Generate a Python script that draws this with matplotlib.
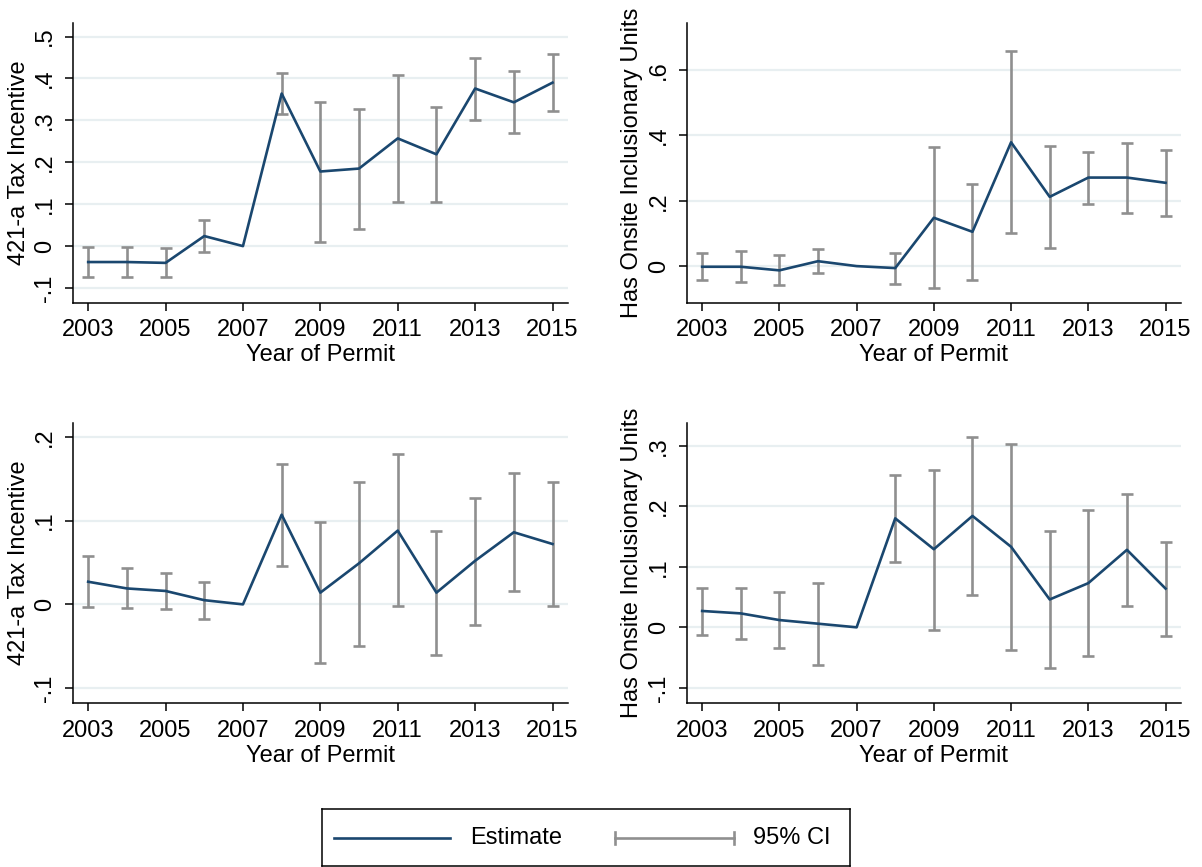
import numpy as np
import matplotlib
matplotlib.use("Agg")
import matplotlib.pyplot as plt
from matplotlib.ticker import FuncFormatter
from matplotlib.lines import Line2D

nan = np.nan

years = [2003, 2004, 2005, 2006, 2007, 2008, 2009, 2010, 2011, 2012, 2013, 2014, 2015]
xtick_years = [2003, 2005, 2007, 2009, 2011, 2013, 2015]

# Panel A: 421-a tax incentive
tax_a_est = [-0.038, -0.038, -0.040, 0.024, 0.0, 0.364, 0.178, 0.185, 0.257, 0.219, 0.376, 0.343, 0.390]
tax_a_lo = [-0.074, -0.073, -0.074, -0.014, nan, 0.316, 0.010, 0.041, 0.106, 0.106, 0.302, 0.269, 0.322]
tax_a_hi = [-0.002, -0.003, -0.005, 0.062, nan, 0.413, 0.345, 0.328, 0.408, 0.331, 0.449, 0.417, 0.459]

# Panel B: onsite inclusionary units
inc_a_est = [-0.002, -0.002, -0.013, 0.015, 0.0, -0.006, 0.148, 0.105, 0.379, 0.212, 0.271, 0.271, 0.255]
inc_a_lo = [-0.043, -0.049, -0.059, -0.022, nan, -0.054, -0.066, -0.042, 0.100, 0.056, 0.191, 0.164, 0.153]
inc_a_hi = [0.039, 0.046, 0.033, 0.053, nan, 0.041, 0.364, 0.251, 0.659, 0.367, 0.350, 0.377, 0.356]

# Panel C: 421-a tax incentive
tax_b_est = [0.027, 0.019, 0.016, 0.005, 0.0, 0.107, 0.014, 0.049, 0.088, 0.014, 0.052, 0.086, 0.072]
tax_b_lo = [-0.003, -0.004, -0.005, -0.018, nan, 0.046, -0.070, -0.050, -0.002, -0.060, -0.025, 0.016, -0.002]
tax_b_hi = [0.058, 0.043, 0.038, 0.027, nan, 0.167, 0.098, 0.146, 0.179, 0.087, 0.127, 0.157, 0.146]

# Panel D: onsite inclusionary units
inc_b_est = [0.027, 0.023, 0.012, 0.006, 0.0, 0.180, 0.129, 0.184, 0.133, 0.046, 0.073, 0.128, 0.064]
inc_b_lo = [-0.012, -0.020, -0.034, -0.063, nan, 0.108, -0.004, 0.054, -0.038, -0.067, -0.047, 0.035, -0.014]
inc_b_hi = [0.065, 0.065, 0.058, 0.074, nan, 0.252, 0.260, 0.314, 0.303, 0.159, 0.193, 0.221, 0.141]

tax_label = "421-a Tax Incentive"
inc_label = "Has Onsite Inclusionary Units"
x_label = "Year of Permit"
legend_labels = ["Estimate", "95% CI"]

NAVY = "#1a476f"
GRAY = "#8f8f8f"
GRID = "#e8eff1"

plt.rcParams["font.family"] = ["Liberation Sans", "DejaVu Sans"]

W, H = 1202, 867
fig = plt.figure(figsize=(W / 100, H / 100), dpi=100)


def px_axes(x0, y0, x1, y1):
    return fig.add_axes([x0 / W, 1 - y1 / H, (x1 - x0) / W, (y1 - y0) / H])


def fmt_stata(v, _pos):
    if abs(v) < 1e-9:
        return "0"
    return f"{v:.1f}".replace("0.", ".")


def panel(ax, est, lo, hi, ylabel, yticks, ylim, label_x):
    yrs = np.array(years, dtype=float)
    est = np.array(est)
    lo = np.array(lo)
    hi = np.array(hi)
    m = ~np.isnan(lo)
    ax.errorbar(yrs[m], est[m], yerr=[est[m] - lo[m], hi[m] - est[m]], fmt="none",
                ecolor=GRAY, elinewidth=1.9, capsize=4.6, capthick=1.9, zorder=2)
    ax.plot(yrs, est, color=NAVY, lw=1.9, zorder=3)
    ax.set_xlim(2002.6, 2015.4)
    ax.set_ylim(*ylim)
    ax.set_xticks(xtick_years)
    ax.set_yticks(yticks)
    ax.yaxis.set_major_formatter(FuncFormatter(fmt_stata))
    ax.grid(axis="y", color=GRID, lw=1.6, zorder=0)
    ax.set_axisbelow(True)
    for s in ("top", "right"):
        ax.spines[s].set_visible(False)
    for s in ("left", "bottom"):
        ax.spines[s].set_linewidth(1.1)
    ax.tick_params(axis="both", direction="out", length=6, width=1.1, labelsize=17, pad=6)
    ax.tick_params(axis="y", labelrotation=90)
    for t in ax.get_yticklabels():
        t.set_va("center")
    ax.set_xlabel(x_label, fontsize=17, labelpad=2)
    ax.set_ylabel(ylabel, fontsize=17)
    ax.yaxis.set_label_coords(label_x, 0.5)


ax1 = px_axes(72.7, 22.7, 568, 302.7)
panel(ax1, tax_a_est, tax_a_lo, tax_a_hi, tax_label,
      [-0.1, 0, 0.1, 0.2, 0.3, 0.4, 0.5], (-0.135, 0.533), -0.087)

ax2 = px_axes(686.7, 22.7, 1181, 302.7)
panel(ax2, inc_a_est, inc_a_lo, inc_a_hi, inc_label,
      [0, 0.2, 0.4, 0.6], (-0.112, 0.745), -0.089)

ax3 = px_axes(72.7, 422.7, 568, 703.3)
panel(ax3, tax_b_est, tax_b_lo, tax_b_hi, tax_label,
      [-0.1, 0, 0.1, 0.2], (-0.118, 0.2167), -0.087)

ax4 = px_axes(686.7, 422.7, 1181, 703.3)
panel(ax4, inc_b_est, inc_b_lo, inc_b_hi, inc_label,
      [-0.1, 0, 0.1, 0.2, 0.3], (-0.1255, 0.338), -0.089)

# Legend box drawn in its own pixel-scaled axes
lg = px_axes(322, 809, 850, 866)
lg.set_xlim(322, 850)
lg.set_ylim(866, 809)
lg.set_xticks([])
lg.set_yticks([])
for s in lg.spines.values():
    s.set_linewidth(1.1)
    s.set_color("black")
ly = 838
lg.add_line(Line2D([334, 450], [ly, ly], color=NAVY, lw=1.9))
lg.text(470, ly, legend_labels[0], fontsize=17, va="center", ha="left")
lg.add_line(Line2D([615, 734], [ly, ly], color=GRAY, lw=1.9))
lg.add_line(Line2D([615, 615], [ly - 6, ly + 6], color=GRAY, lw=1.9))
lg.add_line(Line2D([734, 734], [ly - 6, ly + 6], color=GRAY, lw=1.9))
lg.text(753, ly, legend_labels[1], fontsize=17, va="center", ha="left")

fig.savefig("out.png", dpi=100)
